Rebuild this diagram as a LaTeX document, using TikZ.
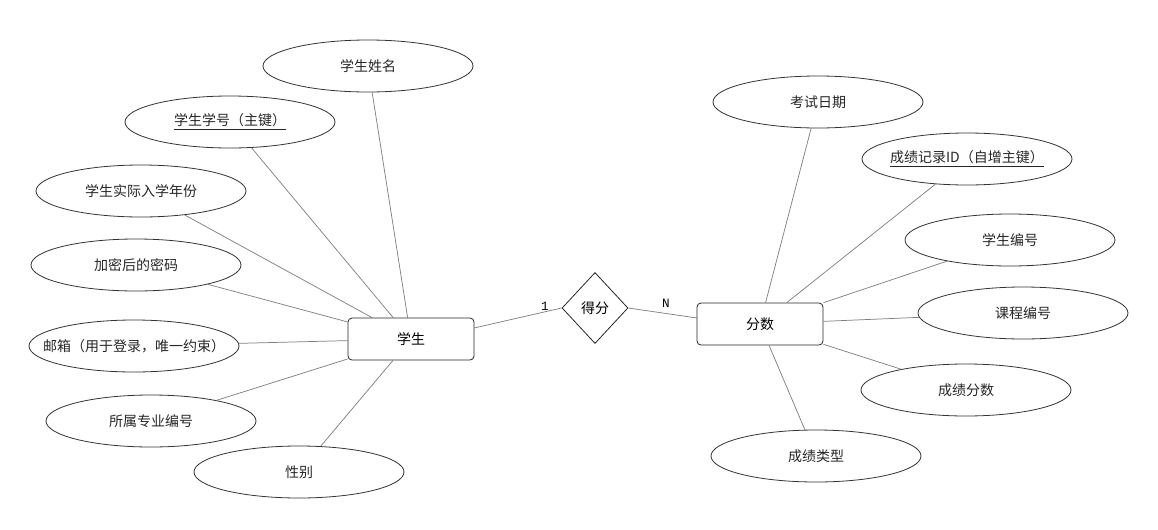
\documentclass[tikz,border=0pt]{standalone}
\usepackage{fontspec}
\setmainfont{Noto Sans CJK SC}
\newfontfamily\monof{Liberation Mono}
\usetikzlibrary{shapes.geometric}
\newcommand{\fixw}[1]{\makebox[0pt]{#1}}
\begin{document}
\begin{tikzpicture}[x=0.75pt,y=-0.75pt,
  attr/.style={ellipse,draw=black!80,line width=0.6pt,minimum width=210*0.75pt,minimum height=52*0.75pt,inner sep=0pt,font=\fontsize{10.5}{12}\selectfont,text=black!85},
  ent/.style={rectangle,rounded corners=3pt,draw=black!85,line width=0.6pt,minimum width=126*0.75pt,minimum height=42*0.75pt,inner sep=0pt,font=\fontsize{10.5}{12}\selectfont},
  rel/.style={diamond,draw=black!85,line width=0.6pt,minimum width=66*0.75pt,minimum height=71*0.75pt,inner sep=0pt,aspect=0.93,font=\fontsize{10.5}{12}\selectfont},
  conn/.style={draw=black!50,line width=0.55pt},
  card/.style={font=\monof\fontsize{9.5}{11}\selectfont}]
\useasboundingbox (0,0) rectangle (1158,529);
% entities
\node[ent] (stu) at (411,339) {学生};
\node[ent] (score) at (760,324) {分数};
\node[rel] (rel) at (595,308) {得分};
% student attributes
\node[attr] (a1) at (368,66) {\fixw{学生姓名}};
\node[attr] (a2) at (230,122) {\fixw{\underline{学生学号（主键）}}};
\node[attr] (a3) at (141,191) {\fixw{学生实际入学年份}};
\node[attr] (a4) at (136,265) {\fixw{加密后的密码}};
\node[attr] (a5) at (134,346) {\fixw{邮箱（用于登录，唯一约束）}};
\node[attr] (a6) at (151,421) {\fixw{所属专业编号}};
\node[attr] (a7) at (299,472) {\fixw{性别}};
% score attributes
\node[attr] (b1) at (818,102) {\fixw{考试日期}};
\node[attr] (b2) at (967,159) {\fixw{\underline{成绩记录ID（自增主键）}}};
\node[attr] (b3) at (1010,240) {\fixw{学生编号}};
\node[attr] (b4) at (1023,313) {\fixw{课程编号}};
\node[attr] (b5) at (966,390) {\fixw{成绩分数}};
\node[attr] (b6) at (816,456) {\fixw{成绩类型}};
% connectors
\foreach \a in {a1,a2,a3,a4,a5,a6,a7} \draw[conn] (stu) -- (\a);
\foreach \b in {b1,b2,b3,b4,b5,b6} \draw[conn] (score) -- (\b);
\coordinate (s1) at (474,328);
\coordinate (s2) at (697,318);
\draw[conn] (s1) -- (rel.west);
\draw[conn] (rel.east) -- (s2);
\node[card] (c1) at (545,306) {1};
\node[card] (c2) at (666,303) {N};
\end{tikzpicture}
\end{document}
